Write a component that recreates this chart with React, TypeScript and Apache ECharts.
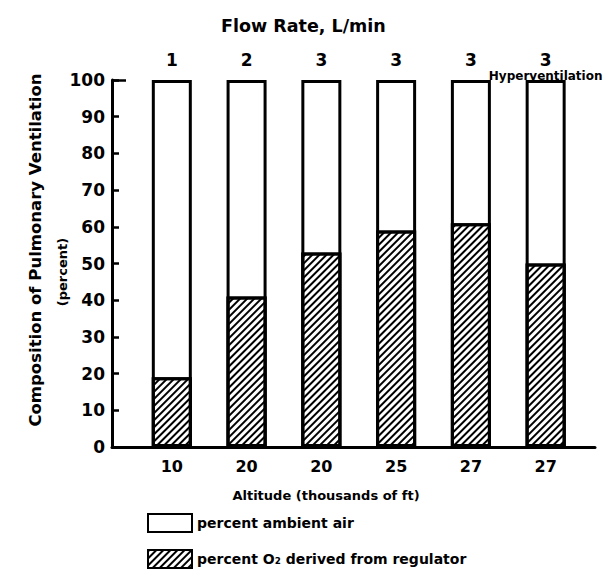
import React, { useEffect, useRef } from "react";
import * as echarts from "echarts";

const altitudes = ["10", "20", "20", "25", "27", "27"];
const flowRates = ["1", "2", "3", "3", "3", "3"];
const notes = ["", "", "", "", "", "Hyperventilation"];
const o2FromRegulator = [19, 41, 53, 59, 61, 50];
const ambientAir = [81, 59, 47, 41, 39, 50];
const yTicks = [0, 10, 20, 30, 40, 50, 60, 70, 80, 90, 100];

const FONT = "DejaVu Sans";

export default function App() {
  const ref = useRef<HTMLDivElement>(null);
  useEffect(() => {
    document.body.style.margin = "0";
    const chart = echarts.init(ref.current!, null, { renderer: "svg" });
    const idx = altitudes.map((_, i) => i);
    // ambient air sits on top of the regulator O2 share: its bar spans 0..(o2 + ambient)
    const ambientTop = ambientAir.map((v, i) => v + o2FromRegulator[i]);
    const hatch = {
      symbol: "rect",
      symbolSize: 1,
      dashArrayX: [1, 0],
      dashArrayY: [2, 2.5],
      rotation: -Math.PI / 4,
      color: "#000",
      backgroundColor: "#fff",
    };
    chart.setOption({
      animation: false,
      backgroundColor: "#fff",
      textStyle: { fontFamily: FONT },
      title: {
        text: "Flow Rate, L/min",
        left: 216,
        top: 12,
        textStyle: { fontSize: 17.5, fontWeight: "bold", color: "#000", fontFamily: FONT },
      },
      grid: { left: 112, right: 16, top: 80, bottom: 129, containLabel: false },
      legend: {
        orient: "vertical",
        left: 147,
        top: 513,
        padding: 0,
        itemWidth: 44,
        itemHeight: 18,
        itemGap: 16,
        icon: "rect",
        selectedMode: false,
        data: ["percent ambient air", "percent O₂ derived from regulator"],
        textStyle: { fontSize: 14, fontWeight: "bold", color: "#000", fontFamily: FONT },
      },
      xAxis: [
        {
          type: "value",
          position: "bottom",
          min: -0.8,
          max: 5.66,
          splitLine: { show: false },
          axisTick: { show: false },
          axisLine: { show: true, onZero: false, lineStyle: { color: "#000", width: 3 } },
          axisLabel: {
            customValues: idx,
            formatter: (v: number) => altitudes[Math.round(v)] ?? "",
            fontSize: 16,
            fontWeight: "bold",
            color: "#000",
            margin: 11,
            fontFamily: FONT,
          },
        },
        {
          type: "value",
          position: "top",
          min: -0.8,
          max: 5.66,
          splitLine: { show: false },
          axisTick: { show: false },
          axisLine: { show: false, onZero: false },
          axisLabel: {
            customValues: idx,
            formatter: (v: number) => {
              const i = Math.round(v);
              return (flowRates[i] ?? "") + "\n{h|" + (notes[i] || " ") + "}";
            },
            fontSize: 17,
            fontWeight: "bold",
            color: "#000",
            margin: -4,
            lineHeight: 17,
            fontFamily: FONT,
            rich: { h: { fontSize: 12, fontWeight: "bold", color: "#000", lineHeight: 16, fontFamily: FONT } },
          },
        },
      ],
      yAxis: [
        {
          type: "value",
          min: 0,
          max: 100,
          interval: 10,
          splitLine: { show: false },
          axisLine: { show: true, onZero: false, lineStyle: { color: "#000", width: 3 } },
          axisTick: { show: true, inside: true, length: 7, lineStyle: { color: "#000", width: 2.5 } },
          axisLabel: {
            customValues: yTicks,
            fontSize: 17,
            fontWeight: "bold",
            color: "#000",
            margin: 7,
            fontFamily: FONT,
          },
        },
        {
          type: "value",
          min: 0,
          max: 100,
          interval: 100,
          position: "left",
          splitLine: { show: false },
          axisLine: { show: false, onZero: false },
          axisTick: { show: true, inside: true, length: 14, lineStyle: { color: "#000", width: 2.5 } },
          axisLabel: { show: false },
        },
      ],
      graphic: [
        {
          type: "text",
          x: 35,
          y: 250,
          rotation: Math.PI / 2,
          style: {
            text: "Composition of Pulmonary Ventilation",
            fontSize: 16.5,
            fontWeight: "bold",
            fontFamily: FONT,
            fill: "#000",
            align: "center",
            verticalAlign: "middle",
          },
        },
        {
          type: "text",
          x: 62,
          y: 272,
          rotation: Math.PI / 2,
          style: {
            text: "(percent)",
            fontSize: 13,
            fontWeight: "bold",
            fontFamily: FONT,
            fill: "#000",
            align: "center",
            verticalAlign: "middle",
          },
        },
        {
          type: "text",
          x: 326,
          y: 495,
          style: {
            text: "Altitude (thousands of ft)",
            fontSize: 13,
            fontWeight: "bold",
            fontFamily: FONT,
            fill: "#000",
            align: "center",
            verticalAlign: "middle",
          },
        },
      ],
      series: [
        {
          name: "percent ambient air",
          type: "bar",
          barWidth: 40,
          barGap: "-100%",
          data: ambientTop.map((v, i) => [i, v]),
          itemStyle: { color: "#fff", borderColor: "#000", borderWidth: 3 },
        },
        {
          name: "percent O₂ derived from regulator",
          type: "bar",
          barWidth: 40,
          barGap: "-100%",
          data: o2FromRegulator.map((v, i) => [i, v]),
          itemStyle: { color: "#fff", borderColor: "#000", borderWidth: 3, decal: hatch },
        },
      ],
    });
    return () => chart.dispose();
  }, []);
  return <div ref={ref} style={{ width: 611, height: 576 }} />;
}
